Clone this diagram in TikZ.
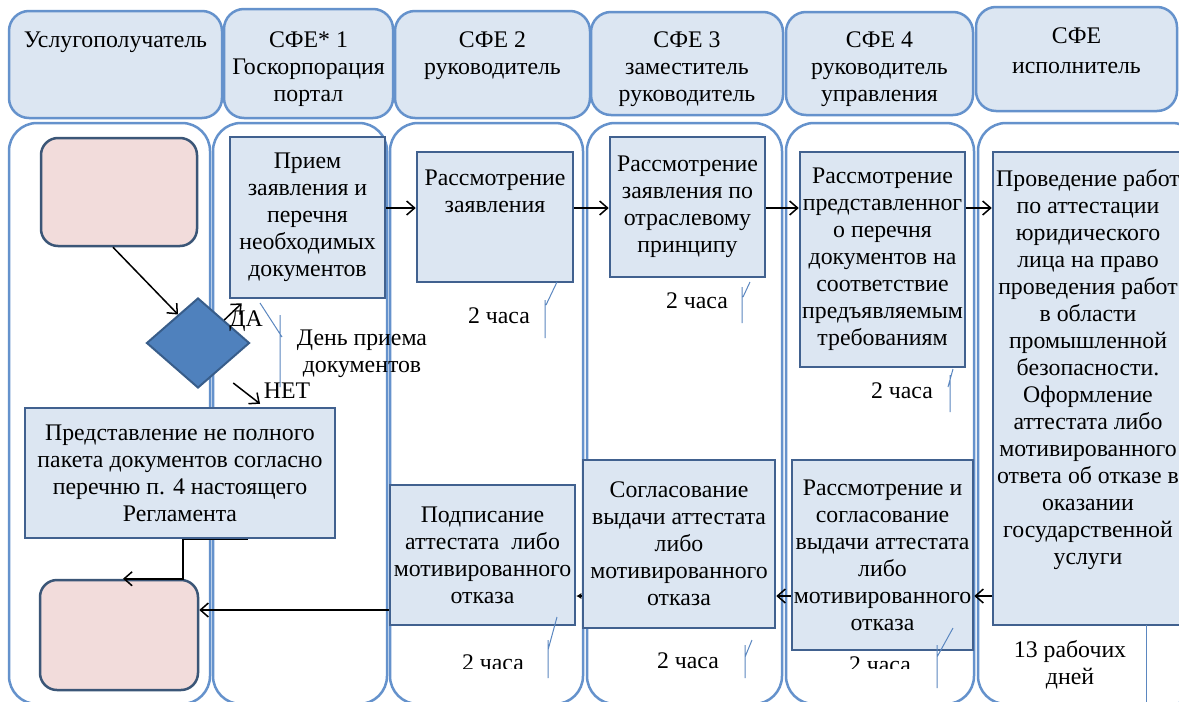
\documentclass[tikz,border=0pt]{standalone}
\usepackage{fontspec}
\setmainfont{Liberation Serif}
\newfontfamily\lanefamily{Liberation Serif}
\usetikzlibrary{
  arrows.meta,
  positioning,
  shapes.geometric
}
\definecolor{lanecolor}{HTML}{6592CC}
\definecolor{hdrfill}{HTML}{DCE6F2}
\definecolor{procfill}{HTML}{DCE6F2}
\definecolor{procdraw}{HTML}{41618F}
\definecolor{termfill}{HTML}{F2DCDB}
\definecolor{termdraw}{HTML}{3B5677}
\definecolor{decfill}{HTML}{4F81BD}
\definecolor{decdraw}{HTML}{385D8A}
\definecolor{tickcolor}{HTML}{5B87C0}
\newcommand{\lanefont}{\lanefamily\fontsize{23.8}{27}\selectfont}

\begin{document}
\begin{tikzpicture}[
  x=1pt, y=-1pt,
  lane/.style={draw=lanecolor, line width=2.5pt, fill=white, rounded corners=28pt},
  hdr/.style={
    draw=lanecolor, line width=2.5pt, fill=hdrfill, rounded corners=20pt,
    inner sep=0pt
  },
  proc/.style={
    draw=procdraw, line width=2.5pt, fill=procfill,
    inner sep=0pt, align=center, font=\lanefont
  },
  term/.style={draw=termdraw, line width=2.5pt, fill=termfill, rounded corners=17pt},
  decide/.style={diamond, draw=decdraw, line width=2pt, fill=decfill, inner sep=0pt},
  flow/.style={-{Straight Barb[length=8pt, width=14pt]}, line width=1.5pt},
  tick/.style={draw=tickcolor, line width=1pt},
  lbl/.style={inner sep=0pt, align=center, font=\lanefont}
]

  \clip (0,0) rectangle (1179,702);
  \fill[white] (0,0) rectangle (1179,702);

  % ── Swim lanes ──
  \draw[lane] (9,123) rectangle (210,704);
  \draw[lane] (213,123) rectangle (387,704);
  \draw[lane] (390,123) rectangle (583,704);
  \draw[lane] (587,123) rectangle (782,704);
  \draw[lane] (786,123) rectangle (974,704);
  \draw[lane] (978,123) rectangle (1200,704);

  % ── Lane headers ──
  \node[hdr, minimum width=213pt, minimum height=107pt] (h1) at (115.5,64.5) {};
  \node[lbl, below=22pt of h1.north] {Услугополучатель};

  \node[hdr, minimum width=169pt, minimum height=109pt] (h2) at (308.5,63.5) {};
  \node[lbl, below=24pt of h2.north] {СФЕ* 1\\Госкорпорация\\портал};

  \node[hdr, minimum width=195pt, minimum height=107pt] (h3) at (492.5,64.5) {};
  \node[lbl, below=22pt of h3.north] {СФЕ 2\\руководитель};

  \node[hdr, minimum width=192pt, minimum height=103pt] (h4) at (687,63.5) {};
  \node[lbl, below=21pt of h4.north] {СФЕ 3\\заместитель\\руководитель};

  \node[hdr, minimum width=187pt, minimum height=103pt] (h5) at (879.5,63.5) {};
  \node[lbl, below=21pt of h5.north] {СФЕ 4\\руководитель\\управления};

  \node[hdr, minimum width=201pt, minimum height=104pt] (h6) at (1076.5,59) {};
  \node[lbl, below=22pt of h6.north] {СФЕ\\[3pt]исполнитель};

  % ── Applicant lane ──
  \node[term, minimum width=156pt, minimum height=108pt] (start) at (119,192) {};
  \node[decide, minimum width=103pt, minimum height=90pt] (dec) at (198,343) {};
  \node[proc, minimum width=310pt, minimum height=130pt] (back) at (180,473)
    {Представление не полного\\пакета документов согласно\\перечню п. 4 настоящего\\Регламента};
  \node[term, minimum width=158pt, minimum height=110pt] (finish) at (119,635) {};

  % ── Process steps ──
  \node[proc, minimum width=155pt, minimum height=161pt] (recv) at (307.5,217.5)
    {Прием\\заявления и\\перечня\\необходимых\\документов};

  \node[proc, minimum width=156pt, minimum height=130pt] (rev) at (495,217) {};
  \node[lbl, below=19pt of rev.north] {Рассмотрение\\заявления};

  \node[proc, minimum width=155pt, minimum height=140pt] (branch) at (687.5,207)
    {Рассмотрение\\заявления по\\отраслевому\\принципу};

  \node[proc, minimum width=165pt, minimum height=215pt] (check) at (882.5,259.5)
    {Рассмотрение\\представленног\\о перечня\\документов на\\соответствие\\предъявляемым\\требованиям};

  \node[proc, minimum width=190pt, minimum height=473pt] (work) at (1088,388.5) {};
  \node[lbl, below=19pt of work.north] {Проведение работ\\по аттестации\\юридического\\лица на право\\проведения работ\\в области\\промышленной\\безопасности.\\Оформление\\аттестата либо\\мотивированного\\ответа об отказе в\\оказании\\государственной\\услуги};

  \node[proc, minimum width=181pt, minimum height=190pt] (agree) at (882.5,555)
    {Рассмотрение и\\согласование\\выдачи аттестата\\либо\\мотивированного\\отказа};

  \node[proc, minimum width=192pt, minimum height=168pt] (approve) at (679,544)
    {Согласование\\выдачи аттестата\\либо\\мотивированного\\отказа};

  \node[proc, minimum width=185pt, minimum height=140pt] (sign) at (482.5,555)
    {Подписание\\аттестата\ \ либо\\мотивированного\\отказа};

  % ── Labels ──
  \node[lbl] (yes) at (246,321) {ДА};
  \node[lbl] (no) at (287,391) {НЕТ};
  \node[lbl] (day) at (362,354) {День приема\\документов};
  \node[lbl] (d2) at (499,316) {2 часа};
  \node[lbl] (d3) at (697,301) {2 часа};
  \node[lbl] (d4) at (902,391) {2 часа};
  \node[lbl] (d7) at (688,661) {2 часа};
  \node[lbl] (d13) at (1070,665) {13 рабочих\\дней};
  \begin{scope}
    \clip (400,600) rectangle (960,668);
    \node[lbl] (d8) at (493,663) {2 часа};
    \node[lbl] (d5) at (880,665) {2 часа};
  \end{scope}

  % ── Duration marks ──
  \draw[tick] (260,303) -- (282,337) (280,315) -- (280,387);
  \draw[tick] (557,282) -- (546,305) (545,300) -- (545,338);
  \draw[tick] (750,282) -- (743,297) (742,287) -- (742,323);
  \draw[tick] (953,369) -- (948,387) (950,375) -- (950,412);
  \draw[tick] (557,617) -- (548,650) (548,640) -- (548,678);
  \draw[tick] (752,640) -- (745,657) (745,645) -- (745,678);
  \draw[tick] (953,628) -- (937,657) (937,645) -- (937,688);
  \draw[tick] (1146,625) -- (1146,702);

  % ── Flow ──
  \coordinate (row1) at (0,208);
  \coordinate (row2) at (0,596);
  \coordinate (row3) at (0,610);

  \draw[flow] ([xshift=-6pt]start.south) -- (dec.125);
  \draw[flow] (dec.north east) -- ([xshift=13pt, yshift=-4pt]recv.south west);
  \draw[flow] ([shift={(9pt,-17pt)}]dec.south east) -- ([xshift=80pt, yshift=3pt]back.north);

  \draw[flow] (recv.east |- row1) -- (rev.west |- row1);
  \draw[flow] (rev.east |- row1) -- (branch.west |- row1);
  \draw[flow] (branch.east |- row1) -- (check.west |- row1);
  \draw[flow] (check.east |- row1) -- (work.west |- row1);

  \draw[flow] (work.west |- row2) -- (agree.east |- row2);
  \draw[flow] (agree.west |- row2) -- (approve.east |- row2);
  \draw[-{Latex[length=5pt, width=6pt]}, line width=1.5pt] (approve.west |- row2) -- (sign.east |- row2);
  \draw[flow] (sign.west |- row3) -- (finish.east |- row3);
  \draw[flow] ([xshift=68pt]back.south) -- ([xshift=3pt]back.south) |- ([xshift=4pt]finish.north);

\end{tikzpicture}
\end{document}
